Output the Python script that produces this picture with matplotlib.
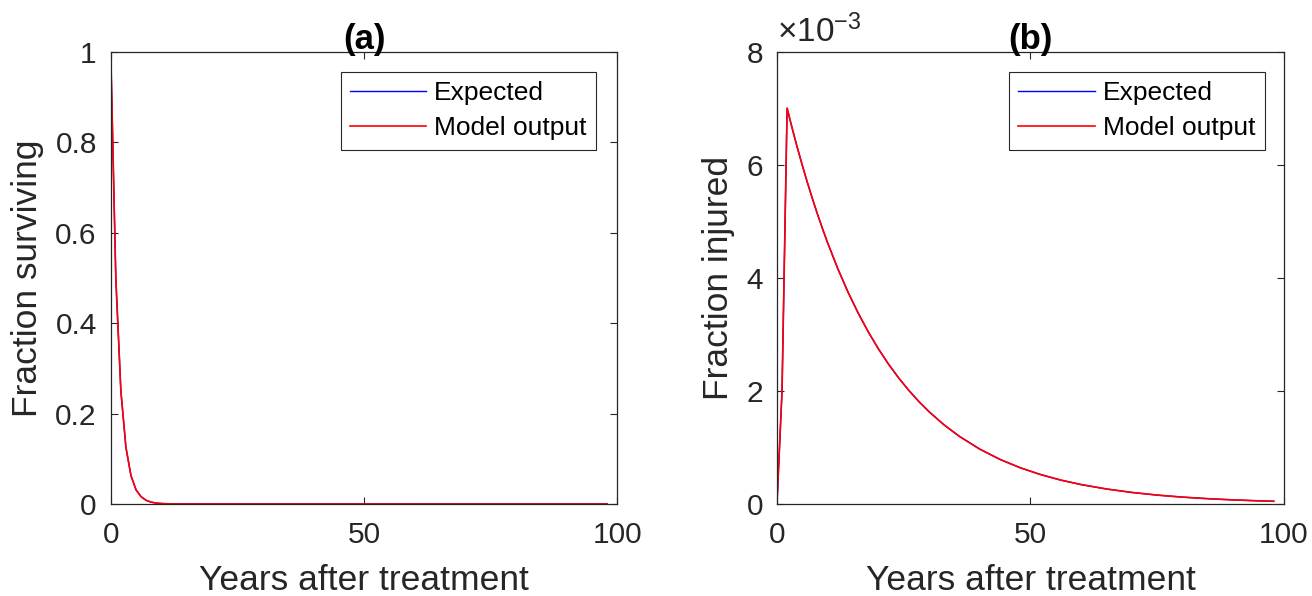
import numpy as np
import matplotlib
matplotlib.use('Agg')
import matplotlib.pyplot as plt
from matplotlib.ticker import FuncFormatter

plt.rcParams['font.family'] = ['Liberation Sans', 'DejaVu Sans']
plt.rcParams['mathtext.fontset'] = 'custom'
plt.rcParams['mathtext.rm'] = 'Liberation Sans'

AX_COLOR = '#262626'

# (a) surviving fraction, yearly steps then flat at zero
years_surv = [0, 1, 2, 3, 4, 5, 6, 7, 8, 9, 10, 11, 12, 98]
surviving = [1.0, 0.5, 0.25, 0.125, 0.0625, 0.031, 0.016, 0.008, 0.004,
             0.002, 0.001, 0.0005, 0.0002, 0.0]

# (b) injured fraction
years_inj = [0, 1, 2, 3, 4, 5, 6, 7, 8, 9, 10, 12, 14, 16, 18, 20, 22, 24,
             26, 28, 30, 33, 36, 40, 44, 48, 52, 56, 60, 65, 70, 75, 80, 85,
             90, 95, 98]
injured = [0.0, 2.0e-3, 7.0e-3, 6.645e-3, 6.308e-3, 5.989e-3, 5.686e-3,
           5.398e-3, 5.124e-3, 4.865e-3, 4.618e-3, 4.162e-3, 3.750e-3,
           3.380e-3, 3.046e-3, 2.745e-3, 2.474e-3, 2.230e-3, 2.010e-3,
           1.811e-3, 1.632e-3, 1.396e-3, 1.195e-3, 0.970e-3, 0.788e-3,
           0.640e-3, 0.520e-3, 0.422e-3, 0.343e-3, 0.265e-3, 0.204e-3,
           0.157e-3, 0.121e-3, 0.0935e-3, 0.072e-3, 0.0556e-3, 0.048e-3]

fig = plt.figure(figsize=(13.12, 5.96), dpi=100)
ax_a = fig.add_axes([0.0844, 0.1544, 0.3861, 0.7589])
ax_b = fig.add_axes([0.5922, 0.1544, 0.3864, 0.7589])


def style_axes(ax):
    for sp in ax.spines.values():
        sp.set_color(AX_COLOR)
        sp.set_linewidth(0.9)
    ax.tick_params(direction='in', length=5, width=0.8, colors=AX_COLOR,
                   labelsize=21.5, top=True, right=True)
    ax.tick_params(axis='x', pad=12)
    ax.tick_params(axis='y', pad=10)
    ax.set_xlim(0, 100)
    ax.set_xticks([0, 50, 100])
    ax.set_xlabel('Years after treatment', fontsize=25.5, color=AX_COLOR, labelpad=11)


def add_legend(ax, right, top):
    leg = ax.legend(loc='upper right', bbox_to_anchor=(right, top), fontsize=19,
                    handlelength=2.9, handletextpad=0.3, labelspacing=0.42,
                    borderpad=0.35, fancybox=False, framealpha=1, borderaxespad=0)
    leg.get_frame().set_edgecolor(AX_COLOR)
    leg.get_frame().set_linewidth(0.8)


# panel (a)
ax_a.plot(years_surv, surviving, color='blue', lw=1.0, label='Expected')
ax_a.plot(years_surv, surviving, color='red', lw=1.2, label='Model output')
style_axes(ax_a)
ax_a.set_ylim(0, 1)
ax_a.set_yticks([0, 0.2, 0.4, 0.6, 0.8, 1.0])
ax_a.yaxis.set_major_formatter(FuncFormatter(lambda v, p: f'{v:g}'))
ax_a.set_ylabel('Fraction surviving', fontsize=25.5, color=AX_COLOR, labelpad=8)
ax_a.set_title('(a)', fontsize=25, fontweight='bold', pad=2)
add_legend(ax_a, 0.958, 0.955)

# panel (b)
ax_b.plot(years_inj, injured, color='blue', lw=1.0, label='Expected')
ax_b.plot(years_inj, injured, color='red', lw=1.2, label='Model output')
style_axes(ax_b)
ax_b.set_ylim(0, 8e-3)
ax_b.set_yticks([0, 2e-3, 4e-3, 6e-3, 8e-3])
ax_b.yaxis.set_major_formatter(FuncFormatter(lambda v, p: f'{v / 1e-3:g}'))
ax_b.set_ylabel('Fraction injured', fontsize=25.5, color=AX_COLOR, labelpad=8)
ax_b.set_title('(b)', fontsize=25, fontweight='bold', pad=2)
ax_b.text(0.0, 1.005, r'$\times\mathregular{10^{-3}}$', transform=ax_b.transAxes,
          fontsize=24, color=AX_COLOR, ha='left', va='bottom')
add_legend(ax_b, 0.962, 0.955)

fig.savefig('out.png', dpi=100)
